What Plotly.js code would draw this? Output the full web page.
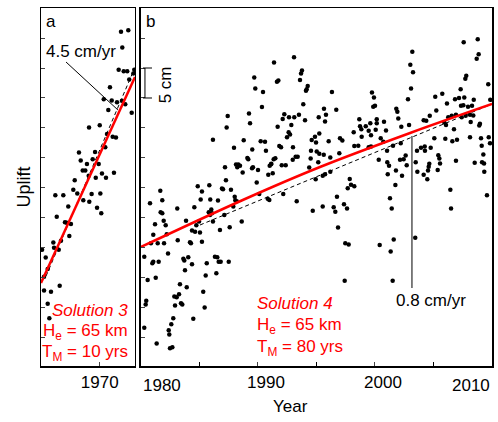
<!DOCTYPE html>
<html><head><meta charset="utf-8">
<script src="https://cdn.plot.ly/plotly-3.0.1.min.js"></script>
<style>html,body{margin:0;padding:0;background:#fff}</style>
</head><body><div id="chart" style="width:498px;height:422px"></div>
<script>
// Panel a: observed uplift (cm) vs year
const yearsA = [1971.81,1972.43,1971.92,1971.61,1972.04,1972.34,1972.86,1972.94,1972.51,1970.87,1970.34,1971.02,1971.47,1971.89,1972.17,1970.73,1972.72,1969.09,1970.00,1970.62,1971.10,1971.38,1970.47,1969.60,1968.23,1968.38,1969.40,1968.91,1969.91,1968.55,1968.77,1970.19,1971.21,1969.66,1970.53,1969.06,1967.87,1967.75,1966.22,1966.90,1968.09,1969.31,1970.05,1968.60,1969.11,1967.32,1969.77,1970.13,1966.34,1967.04,1967.19,1967.55,1967.41,1966.70,1966.05,1966.11,1966.51,1965.09,1965.40,1965.57,1965.26,1965.26,1965.85,1966.59,1965.57,1965.71];
const upliftA = [51.05,51.3,48.4,44.7,44.45,44.45,44.1,44.7,43.1,41.8,39.8,39.6,39.3,39.55,38.95,38.0,37.55,35.1,35.45,34.0,33.55,33.4,31.8,31.0,30.9,29.6,29.8,29.0,29.0,27.9,27.9,27.4,27.55,26.7,26.7,27.05,26.3,24.7,23.8,23.8,24.1,24.0,24.1,22.95,22.7,21.9,21.7,20.8,20.2,19.3,19.2,19.0,17.0,16.2,15.9,15.05,14.7,14.7,13.4,11.5,10.2,7.9,7.7,8.7,5.7,3.3];

// Panel b: observed uplift (cm) vs year
const yearsB = [1991.37,1993.08,1993.76,1993.68,1989.68,1991.62,1991.74,1993.59,1994.25,1994.16,1994.10,1989.77,1990.43,1993.87,1990.34,1987.41,1989.23,1987.32,1989.32,1992.25,1992.11,1992.65,1993.10,1993.50,1992.85,1991.68,1994.02,1995.19,1992.62,1992.74,1992.48,1994.87,1994.59,1995.24,1986.15,1988.78,1990.23,1990.60,1991.82,1991.97,1992.99,1987.95,1989.51,1990.68,1994.53,1995.24,1989.09,1989.17,1991.34,1991.14,1991.48,1993.22,1993.39,1992.97,1994.50,1988.12,1988.32,1988.46,1988.23,1987.18,1988.69,1989.49,1989.57,1990.00,1991.00,1991.11,1992.03,1992.37,1994.38,1995.15,1990.88,1991.26,1987.26,1989.89,1994.93,1984.85,1985.84,1986.92,1987.01,1987.69,1985.21,1981.65,1990.11,1988.01,1985.10,1985.92,1986.58,1988.06,1988.18,1990.83,1990.97,1992.16,1993.31,1981.82,1980.77,1983.10,1984.56,1986.01,1987.89,1981.68,1981.82,1985.79,1985.90,1986.07,1981.20,1981.94,1982.11,1981.05,1982.20,1980.85,1981.43,1981.97,1983.14,1983.85,1984.73,1984.96,1984.36,1984.62,1985.04,1984.19,1984.27,1985.21,1986.15,1986.75,1987.58,1987.12,1988.61,1982.31,1980.28,1980.97,1981.05,1981.51,1983.62,1983.70,1984.04,1984.36,1983.76,1985.62,1986.32,1986.52,1986.64,1986.81,1987.50,1985.53,1986.44,1980.57,1981.26,1983.33,1983.91,1985.32,1982.85,1983.05,1983.25,1980.45,1980.40,1983.42,1983.53,1982.91,1985.44,1982.76,1984.47,1982.59,1980.28,1982.37,1982.42,1981.34,1982.48,1982.68,1994.68,2007.58,2008.78,2008.69,2008.86,2003.19,2003.02,2003.25,2007.80,2007.72,2009.68,1996.32,2003.08,1999.74,1999.91,2002.82,2007.32,2005.75,2005.15,2006.84,2007.18,2007.63,2009.85,1999.85,2000.00,1995.64,1996.69,2008.44,2006.15,2007.35,2007.55,2007.95,2008.29,2001.82,2001.91,2005.24,1995.81,1995.73,1998.66,1998.72,1999.21,2000.15,2000.15,1999.60,2001.99,2000.77,2004.16,2004.38,2004.68,2006.26,2006.56,2006.92,2007.41,2007.75,2008.12,2008.40,2008.18,2008.97,2008.91,1998.18,1998.83,1999.46,2000.06,1999.66,2000.94,2002.25,2002.91,2005.92,2006.07,2006.75,1997.01,1997.21,1998.86,2000.49,2000.71,2005.07,2006.01,2007.01,2008.12,1994.96,1996.04,1998.23,1998.57,1999.46,1999.66,2001.54,2002.20,1995.02,1995.62,1996.95,2001.03,2003.59,2003.93,2004.25,2004.27,2004.76,2006.61,2009.12,2009.83,2009.72,2009.06,1996.18,2009.26,2000.32,2002.14,2002.62,2002.71,2003.48,2004.64,2004.59,2005.41,2005.50,2005.56,2006.92,2008.52,2009.15,2009.32,2001.05,2001.20,2002.45,1995.73,1995.53,1996.18,2001.09,2001.79,2002.31,2003.62,2004.16,2004.47,2004.53,2005.36,2009.34,1997.84,1997.95,1997.67,1998.23,2001.74,2006.44,2009.57,1996.75,1995.53,1996.47,1997.35,1997.61,2001.28,2001.43,2006.50,1996.61,1996.84,1997.46,1997.75,2000.40,2001.34,2001.60,2003.44,1997.41,2001.51];
const upliftB = [45.9,46.8,44.6,44.1,43.4,42.7,42.9,43.0,42.0,41.45,41.2,41.6,41.0,38.95,38.5,37.0,37.4,35.1,35.8,37.3,36.5,36.8,36.8,37.2,35.5,35.2,36.3,36.8,34.3,33.9,33.45,33.55,33.0,34.1,33.05,32.95,32.8,32.7,32.0,31.8,31.8,31.7,31.4,31.2,31.2,30.7,30.0,29.8,29.8,29.05,29.95,30.2,30.2,29.7,29.9,28.9,28.9,28.7,28.45,28.45,27.6,28.3,28.45,28.0,28.7,28.95,28.8,28.8,28.4,29.3,27.2,27.45,26.3,25.9,26.45,25.3,25.45,24.9,24.8,24.7,24.4,24.55,24.0,23.55,23.1,23.1,22.9,22.95,22.8,23.2,23.0,24.0,22.8,22.95,22.45,21.6,21.8,21.4,21.9,20.95,20.8,20.95,20.5,20.8,18.95,19.55,18.8,17.2,17.3,15.8,15.8,15.8,16.3,19.55,18.8,19.4,17.9,17.7,17.6,15.95,15.8,16.05,19.4,18.0,18.45,20.5,19.4,14.1,13.55,12.45,12.7,12.7,13.2,12.9,13.45,12.3,11.3,12.45,13.55,13.45,12.7,12.7,12.7,10.4,10.8,9.67,10.05,8.95,8.45,7.7,6.9,6.8,7.3,6.2,5.6,5.8,5.6,5.4,5.1,3.3,3.2,2.3,1.7,1.3,0.6,-0.9,-1.7,-1.55,21.2,49.3,49.8,46.55,47.3,47.7,45.55,44.3,43.7,43.2,42.3,41.0,41.6,40.9,40.1,39.8,41.45,40.7,40.2,39.8,40.0,40.1,39.7,38.55,38.7,38.2,38.05,39.7,39.1,38.7,38.8,38.55,38.7,38.2,37.7,37.9,37.2,36.1,36.45,35.3,35.3,36.45,35.8,35.8,36.6,36.05,36.3,36.2,37.05,36.8,37.05,37.2,36.8,37.05,37.2,37.1,36.0,35.7,35.4,34.3,34.8,34.55,34.7,33.8,34.6,35.2,35.5,35.9,35.5,34.8,33.3,32.9,33.55,33.3,32.7,33.3,33.2,33.05,33.45,32.6,32.8,32.0,32.05,31.8,31.9,32.05,32.45,31.1,30.55,30.8,31.2,31.2,31.7,31.9,31.2,31.7,32.8,32.05,32.45,33.45,33.3,30.1,30.6,29.7,29.7,30.4,28.8,29.3,29.05,28.55,30.45,29.9,29.1,29.55,29.2,29.3,29.1,29.3,28.7,29.8,27.3,27.05,27.7,27.3,27.9,27.05,27.7,27.2,26.45,27.9,28.0,27.7,26.5,25.55,24.95,25.3,25.5,24.7,23.8,23.55,21.9,21.8,22.3,21.6,23.3,21.6,21.6,21.05,18.4,15.8,15.6,15.5,14.4,16.4,16.7,9.55,9.55];

// Model solutions (red) and linear rate fits (dashed)
const modelAYears = [1965, 1973];
const modelAUplift = [9.17, 43.5];
const modelBYears = [1980, 1988.7, 1995.3, 2003.0, 2010];
const modelBUplift = [15.17, 23.0, 28.5, 34.17, 39.0];
const rateAYears = [1965.43, 1972.83];
const rateAUplift = [10.33, 44.33];
const rateBYears = [1985.04, 2010];
const rateBUplift = [18.83, 39.0];

const xTicksA = [1970];
const xTicksB = [1990, 2000];
const xMinorTicksB = [1985, 1995, 2005];

const FONT = 'Liberation Sans, Arial, sans-serif';
const FS = 17;
const RED = '#ff0000';

const dot = {color: '#000', size: 4.5};
const traces = [
  {x: yearsA, y: upliftA, xaxis: 'x', yaxis: 'y', mode: 'markers', marker: dot, hoverinfo: 'skip'},
  {x: rateAYears, y: rateAUplift, xaxis: 'x', yaxis: 'y', mode: 'lines', line: {color: '#000', width: 1, dash: '4px,3px'}, hoverinfo: 'skip'},
  {x: modelAYears, y: modelAUplift, xaxis: 'x', yaxis: 'y', mode: 'lines', line: {color: RED, width: 2.5}, hoverinfo: 'skip'},
  {x: yearsB, y: upliftB, xaxis: 'x2', yaxis: 'y2', mode: 'markers', marker: dot, hoverinfo: 'skip'},
  {x: rateBYears, y: rateBUplift, xaxis: 'x2', yaxis: 'y2', mode: 'lines', line: {color: '#000', width: 1, dash: '4px,3px'}, hoverinfo: 'skip'},
  {x: modelBYears, y: modelBUplift, xaxis: 'x2', yaxis: 'y2', mode: 'lines', line: {color: RED, width: 2.5, shape: 'spline'}, hoverinfo: 'skip'}
];

const yCommon = {
  range: [-4.67, 55], tick0: 0, dtick: 5, ticks: 'inside', ticklen: 4, tickwidth: 1,
  showticklabels: false, showline: true, linewidth: 1.5, linecolor: '#000', mirror: true,
  showgrid: false, zeroline: false
};
const xCommon = {
  ticks: 'inside', ticklen: 4, tickwidth: 1, showline: true, linewidth: 1.5, linecolor: '#000',
  mirror: true, showgrid: false, zeroline: false, tickfont: {family: FONT, size: FS, color: '#000'}
};

const ann = (o) => Object.assign({showarrow: false, font: {family: FONT, size: FS, color: '#000'}}, o);
const redFont = {family: FONT, size: FS, color: RED};

const layout = {
  width: 498, height: 422,
  margin: {l: 41, r: 6, t: 8, b: 56},
  paper_bgcolor: '#fff', plot_bgcolor: '#fff',
  showlegend: false,
  font: {family: FONT, size: FS, color: '#000'},
  xaxis: Object.assign({}, xCommon, {domain: [0, 0.2084], range: [1965, 1973], tickmode: 'array', tickvals: xTicksA, anchor: 'y'}),
  xaxis2: Object.assign({}, xCommon, {domain: [0.2217, 1], range: [1980, 2010], tickmode: 'array', tickvals: xTicksB, ticklabelshift: 8, anchor: 'y2',
    minor: {tickmode: 'array', tickvals: xMinorTicksB, ticks: 'inside', ticklen: 4, tickwidth: 1, tickcolor: '#000', showgrid: false}}),
  yaxis: Object.assign({}, yCommon, {anchor: 'x', title: {text: 'Uplift', font: {family: FONT, size: 18, color: '#000'}, standoff: 4}}),
  yaxis2: Object.assign({}, yCommon, {anchor: 'x2'}),
  shapes: [
    {type: 'line', xref: 'x', yref: 'y', x0: 1967.13, y0: 46.0, x1: 1971.55, y1: 38.0, line: {color: '#000', width: 1}},
    {type: 'line', xref: 'x2', yref: 'y2', x0: 2003.16, y0: 33.67, x1: 2003.16, y1: 8.33, line: {color: '#000', width: 1}},
    {type: 'line', xref: 'x2', yref: 'y2', x0: 1980.34, y0: 40, x1: 1980.34, y1: 45, line: {color: '#000', width: 1}},
    {type: 'line', xref: 'x2', yref: 'y2', x0: 1980.17, y0: 45, x1: 1980.94, y1: 45, line: {color: '#000', width: 1}},
    {type: 'line', xref: 'x2', yref: 'y2', x0: 1980.17, y0: 40, x1: 1980.94, y1: 40, line: {color: '#000', width: 1}}
  ],
  annotations: [
    ann({xref: 'x', yref: 'y', x: 1965.85, y: 52.8, text: 'a'}),
    ann({xref: 'x2', yref: 'y2', x: 1980.85, y: 52.8, text: 'b'}),
    ann({xref: 'x', yref: 'y', x: 1968.4, y: 47.7, text: '4.5 cm/yr'}),
    ann({xref: 'x2', yref: 'y2', x: 2004.79, y: 6.33, text: '0.8 cm/yr'}),
    ann({xref: 'x2', yref: 'y2', x: 1982.1, y: 42.2, text: '5 cm', textangle: -90}),
    ann({xref: 'x', yref: 'y', x: 1972.6, y: 4.5, xanchor: 'right', text: '<i>Solution 3</i>', font: redFont}),
    ann({xref: 'x', yref: 'y', x: 1972.6, y: 1.0, xanchor: 'right', text: 'H<sub>e</sub> = 65 km', font: redFont}),
    ann({xref: 'x', yref: 'y', x: 1972.6, y: -2.5, xanchor: 'right', text: 'T<sub>M</sub> = 10 yrs', font: redFont}),
    ann({xref: 'x2', yref: 'y2', x: 1989.74, y: 5.83, xanchor: 'left', text: '<i>Solution 4</i>', font: redFont}),
    ann({xref: 'x2', yref: 'y2', x: 1989.74, y: 2.0, xanchor: 'left', text: 'H<sub>e</sub> = 65 km', font: redFont}),
    ann({xref: 'x2', yref: 'y2', x: 1989.74, y: -1.65, xanchor: 'left', text: 'T<sub>M</sub> = 80 yrs', font: redFont}),
    ann({xref: 'x2', yref: 'paper', x: 1980, y: -0.022, xanchor: 'left', yanchor: 'top', text: '1980'}),
    ann({xref: 'x2', yref: 'paper', x: 2010, y: -0.022, xanchor: 'right', yanchor: 'top', text: '2010'}),
    ann({xref: 'paper', yref: 'paper', x: 0.554, y: -0.112, yanchor: 'middle', text: 'Year'})
  ]
};

Plotly.newPlot('chart', traces, layout, {staticPlot: true, displayModeBar: false});
</script>
</body></html>
